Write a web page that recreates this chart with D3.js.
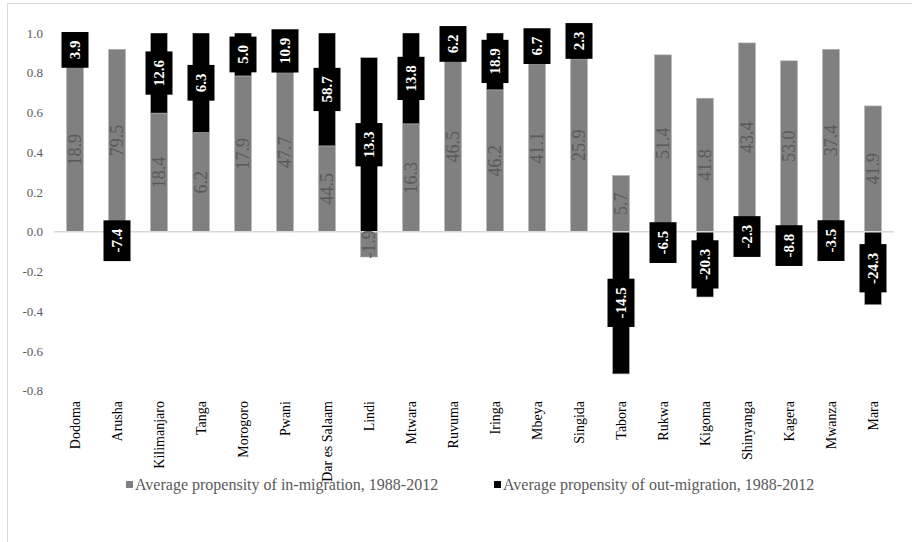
<!DOCTYPE html>
<html>
<head>
<meta charset="utf-8">
<script src="https://cdn.jsdelivr.net/npm/d3@7"></script>
<style>
  body { margin: 0; background: #fff; }
  svg text { font-family: "Liberation Serif", "Times New Roman", Times, serif; }
</style>
</head>
<body>
<svg id="chart" width="912" height="542"></svg>
<script>
const regions = ['Dodoma', 'Arusha', 'Kilimanjaro', 'Tanga', 'Morogoro', 'Pwani', 'Dar es Salaam', 'Lindi',
    'Mtwara', 'Ruvuma', 'Iringa', 'Mbeya', 'Singida', 'Tabora', 'Rukwa', 'Kigoma', 'Shinyanga', 'Kagera',
    'Mwanza', 'Mara']

// bar heights
const inValues = [0.826, 0.918, 0.597, 0.499, 0.784, 0.80, 0.432, -0.127, 0.543, 0.856,
    0.714, 0.845, 0.870, 0.283, 0.89, 0.672, 0.95, 0.86, 0.918, 0.633]
const outValues = [0.178, -0.09, 0.403, 0.501, 0.216, 0.22, 0.568, 0.876, 0.457, 0.178,
    0.286, 0.178, 0.18, -0.715, -0.109, -0.328, -0.048, -0.139, -0.089, -0.367]

// data labels printed on the bars
const inLabels = ['18.9', '79.5', '18.4', '6.2', '17.9', '47.7', '44.5', '-1.9', '16.3', '46.5',
    '46.2', '41.1', '25.9', '5.7', '51.4', '41.8', '43.4', '53.0', '37.4', '41.9']
const outLabels = ['3.9', '-7.4', '12.6', '6.3', '5.0', '10.9', '58.7', '13.3', '13.8', '6.2',
    '18.9', '6.7', '2.3', '-14.5', '-6.5', '-20.3', '-2.3', '-8.8', '-3.5', '-24.3']

const yTicks = [-0.8, -0.6, -0.4, -0.2, 0.0, 0.2, 0.4, 0.6, 0.8, 1.0]
const seriesNames = ['Average propensity of in-migration, 1988-2012', 'Average propensity of out-migration, 1988-2012']
const colors = ['#808080', '#000000']

const FONT = '"Liberation Serif", "Times New Roman", Times, serif'

const svg = d3.select('#chart').attr('font-family', FONT)

// chart frame (only top/left edges fall inside the picture)
svg.append('rect')
    .attr('x', 7.5).attr('y', 3.5)
    .attr('width', 1000).attr('height', 1000)
    .attr('fill', 'none')
    .attr('stroke', '#d9d9d9')

const x = d3.scaleBand()
    .domain(regions)
    .range([54, 894])
    .paddingInner(0.6)
    .paddingOuter(0.3)

const y = d3.scaleLinear()
    .domain([-0.8, 1.0])
    .range([390.8, 33])

const rows = regions.map((r, i) => ({region: r, inm: inValues[i], outm: outValues[i]}))
const stacked = d3.stack()
    .keys(['inm', 'outm'])
    .offset(d3.stackOffsetDiverging)(rows)

// y axis labels only
const yAxis = svg.append('g')
    .attr('transform', 'translate(54,0)')
    .call(d3.axisLeft(y).tickValues(yTicks).tickSize(0).tickPadding(11).tickFormat(d => d.toFixed(1)))
yAxis.attr('font-family', FONT).attr('font-size', 13)
yAxis.select('.domain').remove()
yAxis.selectAll('text')
    .attr('fill', '#595959')

svg.append('clipPath').attr('id', 'plotclip')
    .append('rect')
    .attr('x', 40).attr('y', y(1.0))
    .attr('width', 870).attr('height', y(-0.8) - y(1.0) + 1)

const bars = svg.append('g').attr('clip-path', 'url(#plotclip)')

stacked.forEach((s, k) => {
    bars.append('g')
        .selectAll('rect')
        .data(s)
        .enter()
        .append('rect')
        .attr('x', d => x(d.data.region))
        .attr('width', x.bandwidth())
        .attr('y', d => y(Math.max(d[0], d[1])))
        .attr('height', d => Math.abs(y(d[0]) - y(d[1])))
        .attr('fill', colors[k])
        .attr('stroke', '#b0b0b0')
        .attr('stroke-width', 0.6)
})

// zero line
svg.append('line')
    .attr('x1', 54).attr('x2', 894)
    .attr('y1', y(0)).attr('y2', y(0))
    .attr('stroke', '#d9d9d9')
    .attr('stroke-width', 1.5)

// grey labels inside the in-migration segments
svg.append('g')
    .selectAll('text')
    .data(stacked[0])
    .enter()
    .append('text')
    .attr('transform', d => `translate(${x(d.data.region) + x.bandwidth() / 2},${y((d[0] + d[1]) / 2)}) rotate(-90)`)
    .attr('text-anchor', 'middle')
    .attr('dy', '0.35em')
    .attr('font-size', 18)
    .attr('fill', '#595959')
    .text((d, i) => inLabels[i])

// black boxed labels for out-migration segments
const outLab = svg.append('g')
    .selectAll('g')
    .data(stacked[1])
    .enter()
    .append('g')
    .attr('transform', d => `translate(${x(d.data.region) + x.bandwidth() / 2},${y((d[0] + d[1]) / 2)}) rotate(-90)`)

outLab.each(function(d, i) {
    const g = d3.select(this)
    const box = g.append('rect').attr('fill', '#000')
    const txt = g.append('text')
        .attr('text-anchor', 'middle')
        .attr('dy', '0.35em')
        .attr('font-size', 15)
        .attr('font-weight', 'bold')
        .attr('fill', '#fff')
        .text(outLabels[i])
    const w = txt.node().getComputedTextLength() + 17
    box.attr('x', -w / 2).attr('y', -13.5).attr('width', w).attr('height', 27)
})

// category labels
svg.append('g')
    .selectAll('text')
    .data(regions)
    .enter()
    .append('text')
    .attr('transform', d => `translate(${x(d) + x.bandwidth() / 2},401) rotate(-90)`)
    .attr('text-anchor', 'end')
    .attr('dy', '0.35em')
    .attr('font-size', 14)
    .attr('fill', '#000')
    .text(d => d)

// legend
const legendX = [126, 494]
seriesNames.forEach((name, k) => {
    svg.append('rect')
        .attr('x', legendX[k]).attr('y', 481)
        .attr('width', 7).attr('height', 7)
        .attr('fill', colors[k])
    svg.append('text')
        .attr('x', legendX[k] + 9).attr('y', 490)
        .attr('font-size', 16)
        .attr('fill', '#595959')
        .text(name)
})
</script>
</body>
</html>
